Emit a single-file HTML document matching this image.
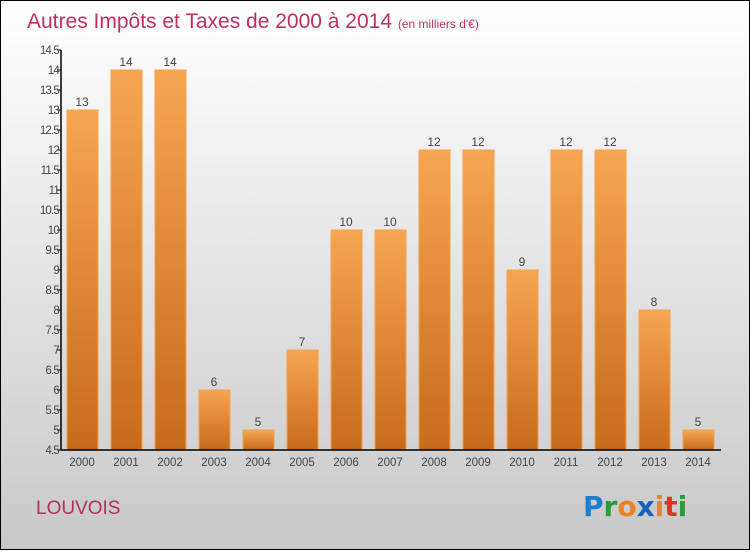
<!DOCTYPE html>
<html><head><meta charset="utf-8"><style>
html,body{margin:0;padding:0}
body{width:750px;height:550px;overflow:hidden;font-family:"Liberation Sans",sans-serif}
</style></head><body>
<svg id="chart" width="750" height="550" xmlns="http://www.w3.org/2000/svg">
<defs>
<linearGradient id="bg" x1="0" y1="0" x2="0" y2="1"><stop offset="0" stop-color="#ffffff"/><stop offset="1" stop-color="#c8c8c8"/></linearGradient>
<linearGradient id="bar" x1="0" y1="0" x2="0" y2="1"><stop offset="0" stop-color="#f6a652"/><stop offset="1" stop-color="#c76a1c"/></linearGradient>
</defs>
<rect x="0.5" y="0.5" width="749" height="549" fill="url(#bg)" stroke="#000" stroke-width="1"/>
<text x="27" y="28" font-size="21" fill="#c0305f">Autres Impôts et Taxes de 2000 à 2014 <tspan font-size="12">(en milliers d'€)</tspan></text>
<g id="bars"></g>
<g id="axes"></g>
<text x="36" y="514" font-size="19" fill="#b03060">LOUVOIS</text>
<g font-size="28" font-family="'DejaVu Sans',sans-serif" font-weight="bold">
<text x="583" y="516" fill="#1a7fd0">P<tspan fill="#2a9a3a">r</tspan><tspan fill="#f08020">o</tspan><tspan fill="#1a60c0">x</tspan><tspan fill="#f08020">i</tspan><tspan fill="#e03020">t</tspan><tspan fill="#2a9a3a">i</tspan></text>
</g>
</svg>
<script>
const categories=["2000","2001","2002","2003","2004","2005","2006","2007","2008","2009","2010","2011","2012","2013","2014"];
const values=[13,14,14,6,5,7,10,10,12,12,9,12,12,8,5];
const yTicks=[4.5,5,5.5,6,6.5,7,7.5,8,8.5,9,9.5,10,10.5,11,11.5,12,12.5,13,13.5,14,14.5];
const NS="http://www.w3.org/2000/svg";
const yMin=4.5,yMax=14.5,y0=450,y1=50,x0=61,step=44;
function yS(v){return y0-(v-yMin)/(yMax-yMin)*(y0-y1);}
function xS(i){return 82+i*step;}
function mk(t,a,p){const e=document.createElementNS(NS,t);for(const k in a)e.setAttribute(k,a[k]);p.appendChild(e);return e;}
const bars=document.getElementById('bars'),axes=document.getElementById('axes');
values.forEach((v,i)=>{
 const r=mk('rect',{x:xS(i)-15,y:yS(v),width:31,height:y0-yS(v),fill:'url(#bar)',stroke:'#f5a04a','stroke-width':1},bars);
 
 
 const t=mk('text',{x:xS(i),y:yS(v)-4,'text-anchor':'middle','font-size':12,fill:'#444'},bars);
 t.textContent=v;
 
 
 const c=mk('text',{x:xS(i),y:466,'text-anchor':'middle','font-size':11.5,fill:'#444'},axes);
 c.textContent=categories[i];
 
 
});
const ya=mk('line',{x1:x0,y1:y1,x2:x0,y2:y0,stroke:'#000','stroke-width':1.5},axes);


const xa=mk('line',{x1:x0,y1:y0,x2:721,y2:y0,stroke:'#000','stroke-width':1.5},axes);


yTicks.forEach(v=>{
 mk('line',{x1:x0-4,y1:yS(v),x2:x0,y2:yS(v),stroke:'#000'},axes);
 const t=mk('text',{x:x0-2,y:yS(v)+4,'text-anchor':'end','font-size':11.5,fill:'#444','letter-spacing':'-0.8'},axes);
 t.textContent=v;
 
 
});
</script>
</body></html>
